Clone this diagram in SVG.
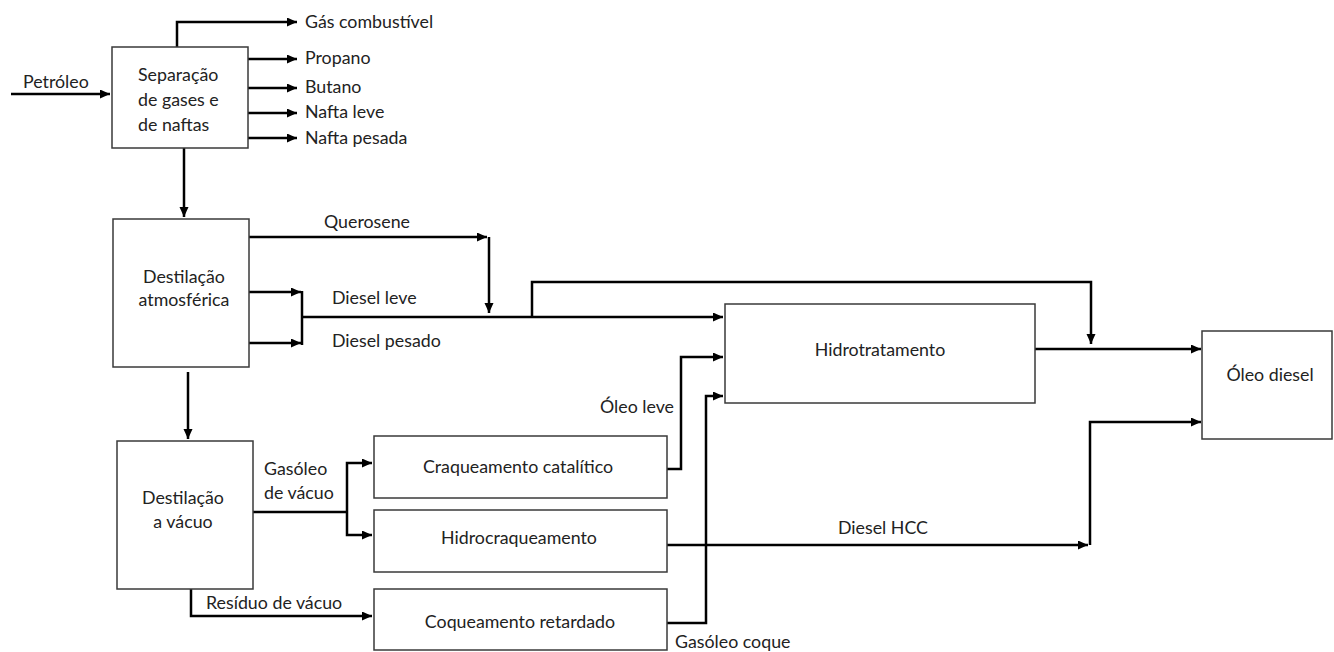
<svg xmlns="http://www.w3.org/2000/svg" width="1334" height="652" viewBox="0 0 1334 652">
<defs>
<marker id="arr" markerUnits="userSpaceOnUse" markerWidth="11" markerHeight="10" refX="10" refY="4.5" orient="auto">
<path d="M0,0 L10,4.5 L0,9 z" fill="#000"/>
</marker>
<style>
.box{fill:#fff;stroke:#3a3a3a;stroke-width:1.5}
.c{fill:none;stroke:#000;stroke-width:2.5}
.a{marker-end:url(#arr)}
text{font-family:Lato,"Liberation Sans",sans-serif;font-size:17.8px;fill:#222}
.m{text-anchor:middle}
.e{text-anchor:end}
</style>
</defs>
<rect width="1334" height="652" fill="#fff"/>
<g id="connectors">
<path class="c a" d="M11 94 H110"/>
<path class="c a" d="M177 47 V22 H297"/>
<path class="c a" d="M248 59 H297"/>
<path class="c a" d="M248 88 H297"/>
<path class="c a" d="M248 113 H297"/>
<path class="c a" d="M248 138 H297"/>
<path class="c a" d="M184 148 V217"/>
<path class="c a" d="M249 237 H487"/>
<path class="c a" d="M489 237 V313"/>
<path class="c a" d="M249 292 H301"/>
<path class="c a" d="M249 343 H301"/>
<path class="c" d="M302 291 V345"/>
<path class="c a" d="M302 317 H723"/>
<path class="c a" d="M532 317 V282 H1091 V344"/>
<path class="c a" d="M1035 349 H1201"/>
<path class="c a" d="M188 372 V439"/>
<path class="c" d="M253 512 H347"/>
<path class="c a" d="M347 512 V463 H372"/>
<path class="c a" d="M347 512 V535 H372"/>
<path class="c a" d="M191 589 V616 H372"/>
<path class="c a" d="M667 469 H681 V357 H723"/>
<path class="c a" d="M667 623 H706 V396 H723"/>
<path class="c a" d="M667 545 H1088"/>
<path class="c a" d="M1090 545 V422 H1201"/>
</g>
<g id="labels">
<text x="23" y="88">Petróleo</text>
<text x="305" y="28">Gás combustível</text>
<text x="305" y="64">Propano</text>
<text x="305" y="93">Butano</text>
<text x="305" y="118">Nafta leve</text>
<text x="305" y="144">Nafta pesada</text>
<text x="367" y="228" class="m">Querosene</text>
<text x="332" y="304">Diesel leve</text>
<text x="332" y="347">Diesel pesado</text>
<text x="264" y="475">Gasóleo</text>
<text x="264" y="499">de vácuo</text>
<text x="206" y="609">Resíduo de vácuo</text>
<text x="674" y="413" class="e">Óleo leve</text>
<text x="675" y="648">Gasóleo coque</text>
<text x="838" y="534">Diesel HCC</text>
</g>
<g id="separacao">
<rect class="box" x="112" y="47" width="136" height="101"/>
<text x="138" y="81">Separação</text>
<text x="138" y="106">de gases e</text>
<text x="138" y="131">de naftas</text>
</g>
<g id="destilacao-atm">
<rect class="box" x="113" y="219" width="136" height="148"/>
<text x="184" y="283" class="m">Destilação</text>
<text x="184" y="306" class="m">atmosférica</text>
</g>
<g id="destilacao-vac">
<rect class="box" x="117" y="441" width="136" height="148"/>
<text x="183" y="504" class="m">Destilação</text>
<text x="183" y="528" class="m">a vácuo</text>
</g>
<g id="craqueamento">
<rect class="box" x="374" y="436" width="293" height="62"/>
<text x="518" y="473" class="m">Craqueamento catalítico</text>
</g>
<g id="hidrocraqueamento">
<rect class="box" x="374" y="510" width="293" height="62"/>
<text x="519" y="544" class="m">Hidrocraqueamento</text>
</g>
<g id="coqueamento">
<rect class="box" x="374" y="589" width="293" height="61"/>
<text x="520" y="628" class="m">Coqueamento retardado</text>
</g>
<g id="hidrotratamento">
<rect class="box" x="725" y="304" width="310" height="99"/>
<text x="880" y="356" class="m">Hidrotratamento</text>
</g>
<g id="oleo-diesel">
<rect class="box" x="1202" y="331" width="130" height="108"/>
<text x="1270" y="381" class="m">Óleo diesel</text>
</g>
</svg>
